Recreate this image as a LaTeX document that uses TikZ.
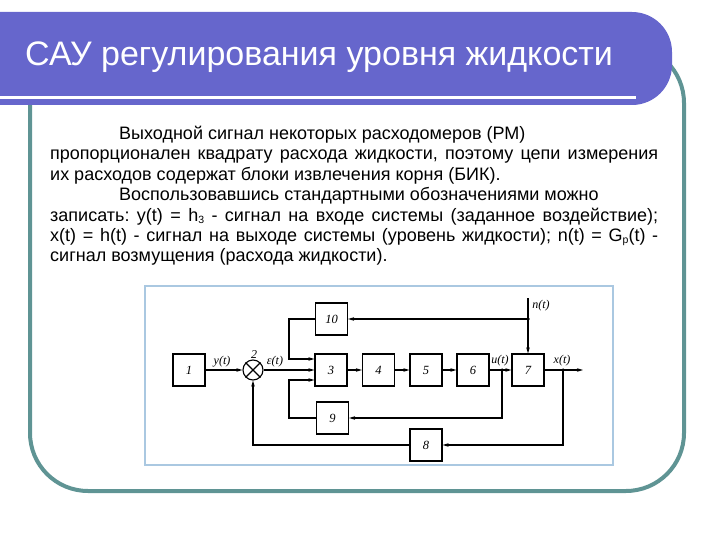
\documentclass[tikz,border=0pt]{standalone}
\usepackage{fontspec}
\setmainfont{Liberation Sans}
\newfontfamily\dgfont{Liberation Serif}
\usetikzlibrary{arrows.meta}
\definecolor{barblue}{RGB}{102,102,204}
\definecolor{frameteal}{RGB}{95,148,148}
\definecolor{diagframe}{RGB}{170,200,225}
\newcommand\lsub[1]{\raisebox{-2.5pt}{\fontsize{10.5}{10.5}\selectfont #1}}
\frenchspacing
\begin{document}
\begin{tikzpicture}[x=1pt,y=-1pt,
  blk/.style={draw, line width=1.1pt, minimum width=32pt, minimum height=32pt, inner sep=0pt,
    font=\dgfont\itshape\fontsize{12.5}{12.5}\selectfont},
  sig/.style={line width=1.3pt},
  arr/.style={sig, -{Stealth[length=6pt,width=3.5pt]}},
  lbl/.style={font=\dgfont\itshape\fontsize{12}{12}\selectfont, inner sep=0pt},
  jdot/.style={circle, fill, inner sep=0pt, minimum size=3.5pt}]
\useasboundingbox (0,0) rectangle (720,540);
% slide frame
\draw[frameteal, line width=4pt, rounded corners=58pt] (30,45) rectangle (684,491);
\fill[barblue] (0,12) [rounded corners=40pt] -- (672,12) -- (672,105) [sharp corners] -- (0,105) -- cycle;
\fill[white] (0,96) rectangle (636,99);
\node[anchor=base west, inner sep=0pt, text=white, font=\fontsize{34}{40}\selectfont] (title) at (25,66) {САУ регулирования уровня жидкости};
% body text
\node[anchor=base west, inner sep=0pt] (body) at (50,139.5) {\parbox[t]{608pt}{\fontsize{18}{20.4}\selectfont\frenchspacing\setlength{\parindent}{0pt}%
\hspace*{69pt}Выходной сигнал некоторых расходомеров (РМ)\par
\makebox[608pt][s]{пропорционален квадрату расхода жидкости, поэтому цепи измерения}\par
их расходов содержат блоки извлечения корня (БИК).\par
\hspace*{69pt}Воспользовавшись стандартными обозначениями можно\par
\makebox[608pt][s]{записать: y(t) = h\lsub{3} - сигнал на входе системы (заданное воздействие);}\par
\makebox[608pt][s]{x(t) = h(t) - сигнал на выходе системы (уровень жидкости); n(t) = G\lsub{р}(t) -}\par
сигнал возмущения (расхода жидкости).}};
% diagram frame
\draw[diagframe, line width=2pt] (145,286) rectangle (613,465);
% blocks
\node[blk] (b1) at (189,370) {1};
\node[draw, circle, line width=1.1pt, minimum size=20pt, inner sep=0pt] (s) at (253,370) {};
\draw[line width=1.1pt] (s.north east) -- (s.south west) (s.north west) -- (s.south east);
\node[lbl, anchor=south] (l2) at (254,359) {2};
\node[blk] (b3) at (331,370) {3};
\node[blk] (b4) at (378.5,370) {4};
\node[blk] (b5) at (426,370) {5};
\node[blk] (b6) at (473,370) {6};
\node[blk] (b7) at (528,370) {7};
\node[blk] (b10) at (331.5,319) {10};
\node[blk] (b9) at (332.5,418) {9};
\node[blk] (b8) at (426,445) {8};
% connectors
\draw[arr] (b1) -- (s);
\draw[arr] (s) -- (b3);
\coordinate (k1) at (289,359);
\coordinate (k2) at (289,380);
\draw[arr] (b10.west) -| (k1) -- (b3.west |- k1);
\draw[arr] (b9.west) -| (k2) -- (b3.west |- k2);
\draw[arr] (b3) -- (b4);
\draw[arr] (b4) -- (b5);
\draw[arr] (b5) -- (b6);
\draw[arr] (b6) -- (b7);
\node[jdot] (ju) at (502,370) {};
\draw[arr] (ju.center) |- (b9.east);
\coordinate (ntop) at (528,298);
\node[jdot] (jn) at (528,319) {};
\draw[arr] (ntop) -- (b7.north);
\draw[arr] (jn.center) -- (b10.east);
\coordinate (xout) at (583,370);
\draw[arr] (b7.east) -- (xout);
\node[jdot] (jx) at (563,370) {};
\draw[arr] (jx.center) |- (b8.east);
\draw[arr] (b8.west) -| (s.south);
% labels
\node[lbl] (ly) at (222,362) {y(t)};
\node[lbl] (le) at (275,362) {ε(t)};
\node[lbl] (lu) at (500,361) {u(t)};
\node[lbl] (lx) at (562,361) {x(t)};
\node[lbl] (ln) at (541,306) {n(t)};
\end{tikzpicture}
\end{document}
